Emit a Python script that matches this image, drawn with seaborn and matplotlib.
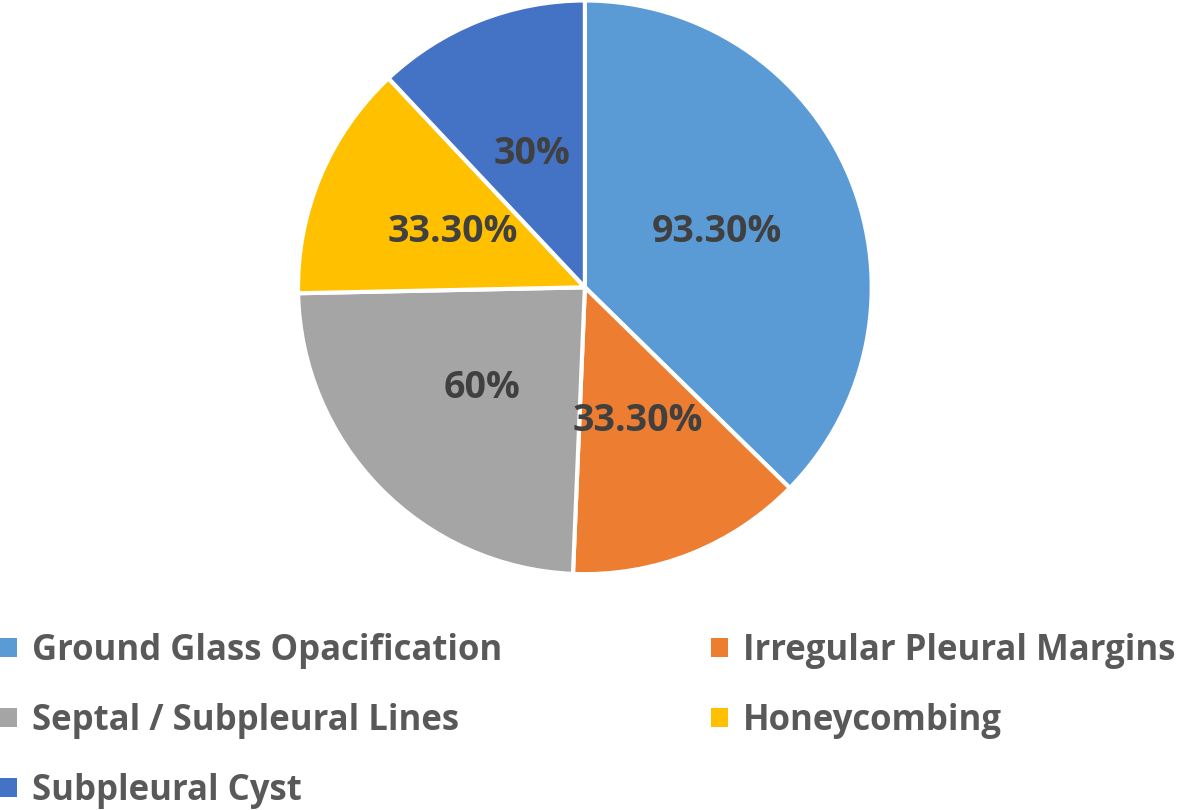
import matplotlib
matplotlib.use("Agg")
import matplotlib.pyplot as plt
from matplotlib.patches import Patch
import seaborn as sns

sns.set_theme(style="white")
plt.rcParams['font.family'] = ['Open Sans', 'DejaVu Sans']

# data
categories = ["Ground Glass Opacification", "Irregular Pleural Margins",
              "Septal / Subpleural Lines", "Honeycombing", "Subpleural Cyst"]
values = [93.3, 33.3, 60, 33.3, 30]
value_labels = ["93.30%", "33.30%", "60%", "33.30%", "30%"]
colors = ["#5B9BD5", "#ED7D31", "#A5A5A5", "#FFC000", "#4472C4"]

fig = plt.figure(figsize=(11.78, 8.10), dpi=100)
ax = fig.add_axes([0.253, 0.291, 0.487, 0.7086])

label_iter = iter(value_labels)
wedges, texts, autotexts = ax.pie(
    values, colors=colors, startangle=90, counterclock=False,
    autopct=lambda p: next(label_iter), pctdistance=0.5,
    wedgeprops=dict(edgecolor="white", linewidth=3),
    textprops=dict(color="#404040", fontsize=27, fontweight="bold"))
ax.set_xlim(-1, 1)
ax.set_ylim(-1, 1)
ax.set_aspect("equal")

# legend: column-first fill, so reorder to get row layout of the reference
order = [0, 2, 4, 1, 3]
handles = [Patch(facecolor=colors[i], edgecolor="none") for i in order]
labels = [categories[i] for i in order]
fig.legend(handles, labels, loc="upper left", bbox_to_anchor=(0.0, 0.219),
           ncol=2, frameon=False, borderpad=0, borderaxespad=0,
           handlelength=0.48, handleheight=0.48, handletextpad=0.45,
           labelspacing=0.98, columnspacing=6.0,
           prop=dict(family=['Open Sans', 'DejaVu Sans'], size=25, weight="bold"),
           labelcolor="#595959")

fig.savefig("out.png", dpi=100)
